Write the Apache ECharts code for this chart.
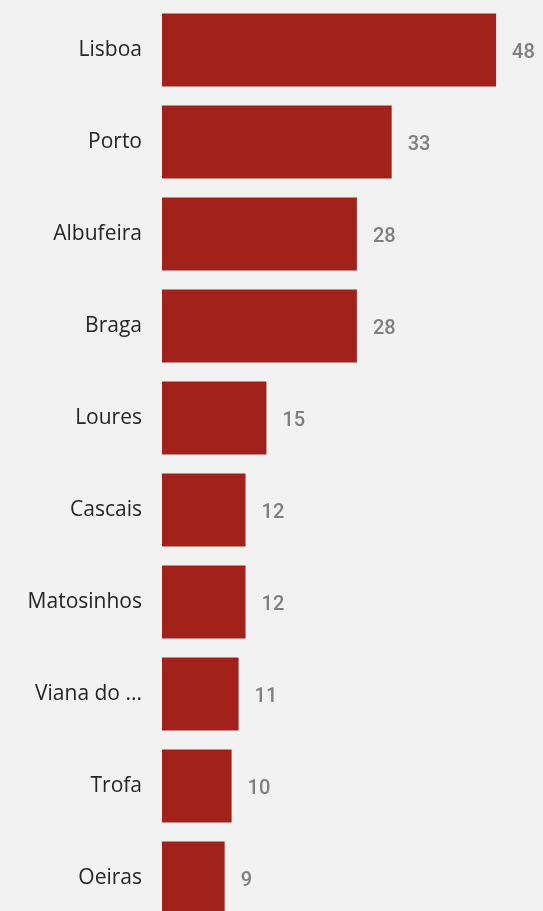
<!DOCTYPE html>
<html>
<head>
<meta charset="utf-8">
<script src="https://cdn.jsdelivr.net/npm/echarts@6/dist/echarts.min.js"></script>
<style>
  html, body { margin: 0; padding: 0; background: #f2f2f2; overflow: hidden; }
  #chart { width: 543px; height: 924px; }
</style>
</head>
<body>
<div id="chart"></div>
<script>
const cities = ['Lisboa', 'Porto', 'Albufeira', 'Braga', 'Loures', 'Cascais', 'Matosinhos', 'Viana do ...', 'Trofa', 'Oeiras']
const counts = [48, 33, 28, 28, 15, 12, 12, 11, 10, 9]

const myChart = echarts.init(document.getElementById('chart'))
const option = {
  backgroundColor: '#f2f2f2',
  animation: false,
  grid: {
    left: 162,
    right: 33,
    top: 4,
    bottom: 0,
  },
  xAxis: {
    type: 'value',
    min: 0,
    max: 50,
    show: false,
  },
  yAxis: {
    type: 'category',
    inverse: true,
    data: cities,
    axisLine: { show: false },
    axisTick: { show: false },
    axisLabel: {
      margin: 20,
      padding: [4, 0, 0, 0],
      fontFamily: 'Open Sans',
      fontSize: 21,
      color: '#252525',
    },
  },
  series: [
    {
      type: 'bar',
      data: counts,
      barWidth: 73,
      itemStyle: { color: '#a0221a' },
      label: {
        show: true,
        position: 'right',
        distance: 16,
        offset: [0, 3],
        fontFamily: 'Roboto',
        fontWeight: 500,
        fontSize: 20,
        color: '#7f7f7f',
      },
    },
  ],
}
myChart.setOption(option)
</script>
</body>
</html>
